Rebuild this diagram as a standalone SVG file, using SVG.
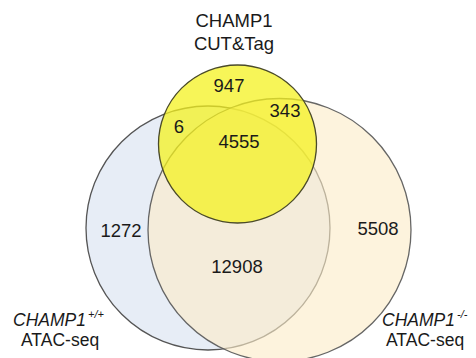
<svg xmlns="http://www.w3.org/2000/svg" width="476" height="358" viewBox="0 0 476 358">
<style>
text{font-family:"Liberation Sans",Arial,sans-serif;font-size:18.5px;fill:#1a1a1a}
.n{text-anchor:middle}
.l{font-size:17.5px}
.i{font-style:italic}
.sup{font-size:11px;font-style:italic}
.c{stroke:#555;stroke-width:1.3}
</style>
<rect width="476" height="358" fill="#fff"/>
<g id="wt">
<circle class="c" cx="208" cy="228" r="122" fill="#e7edf6"/>
</g>
<g id="ko">
<circle class="c" cx="279.5" cy="230" r="131.5" fill="rgb(252,236,200)" fill-opacity="0.62" stroke-opacity="0.9"/>
</g>
<g id="cuttag">
<circle cx="237.5" cy="144" r="79" fill="rgb(244,242,30)" fill-opacity="0.74" stroke="#4a4a2a" stroke-width="1.3"/>
</g>
<g id="connectors"></g>
<g id="labels">
<text class="n" x="234" y="27">CHAMP1</text>
<text class="n" x="234" y="50">CUT&amp;Tag</text>
<text class="n" x="229" y="92">947</text>
<text class="n" x="285" y="117">343</text>
<text class="n" x="179" y="133">6</text>
<text class="n" x="239" y="148">4555</text>
<text class="n" x="121" y="237">1272</text>
<text class="n" x="378" y="235">5508</text>
<text class="n" x="237" y="273">12908</text>
<text class="i l" x="13" y="326">CHAMP1</text>
<text class="sup" x="88" y="318">+/+</text>
<text class="l" x="21" y="346">ATAC-seq</text>
<text class="i l" x="382" y="326">CHAMP1</text>
<text class="sup" x="457" y="318">-/-</text>
<text class="l" x="386" y="346">ATAC-seq</text>
</g>
</svg>
